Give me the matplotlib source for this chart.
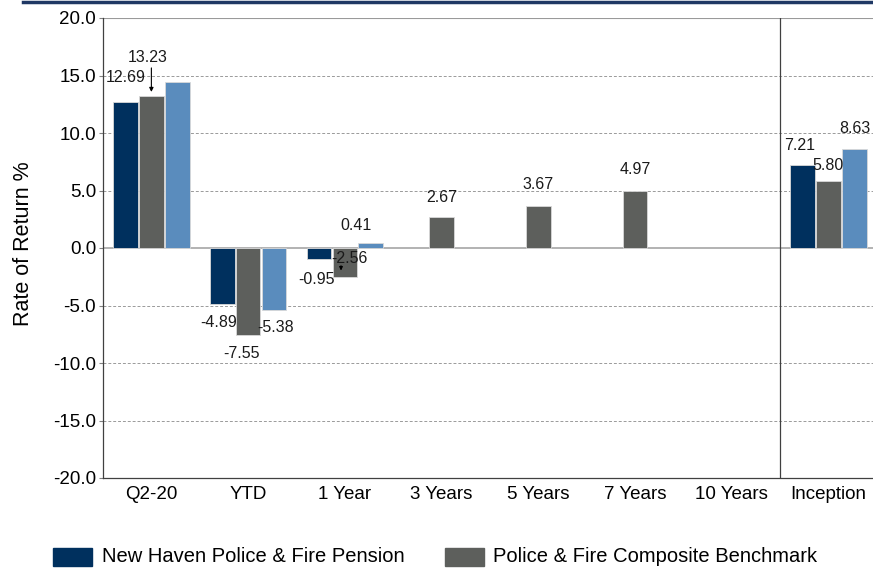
import matplotlib
matplotlib.use("Agg")
import matplotlib.pyplot as plt
from matplotlib.patches import Rectangle
import numpy as np

categories = ["Q2-20", "YTD", "1 Year", "3 Years", "5 Years", "7 Years", "10 Years", "Inception"]
pension = [12.69, -4.89, -0.95, np.nan, np.nan, np.nan, np.nan, 7.21]
benchmark = [13.23, -7.55, -2.56, 2.67, 3.67, 4.97, np.nan, 5.80]
third = [14.43, -5.38, 0.41, np.nan, np.nan, np.nan, np.nan, 8.63]
series_names = ["New Haven Police & Fire Pension", "Police & Fire Composite Benchmark"]
yticks = [20, 15, 10, 5, 0, -5, -10, -15, -20]

# label positions (data coords) per series/category, None = no label
pension_lbl = [(-0.27, 14.8), (-0.31, -6.5), (-0.29, -2.7), None, None, None, None, (-0.3, 8.95)]
bench_lbl = [(-0.04, 16.6), (-0.07, -9.2), (0.05, -0.87), (0, 4.43), (0, 5.5), (0, 6.8), None, (-0.01, 7.2)]
third_lbl = [None, (0.28, -6.95), (0.12, 2.0), None, None, None, None, (0.27, 10.4)]

plt.rcParams["font.family"] = ["Liberation Sans", "DejaVu Sans"]

navy = "#00305E"
gray = "#5D5F5C"
blue = "#5A8CBD"

fig = plt.figure(figsize=(8.73, 5.72), dpi=100)
W, H = 873, 572
ax = fig.add_axes([103 / W, 1 - 478 / H, (877 - 103) / W, (478 - 18) / H])

x = np.arange(len(categories))
bw = 0.255
off = 0.268
ax.bar(x - off, pension, bw, color=navy, edgecolor="#d9d9d9", linewidth=0.6, zorder=3)
ax.bar(x, benchmark, bw, color=gray, edgecolor="#d9d9d9", linewidth=0.6, zorder=3)
ax.bar(x + off, third, bw, color=blue, edgecolor="#d9d9d9", linewidth=0.6, zorder=3)

ax.set_xlim(-0.5, 7.5)
ax.set_ylim(-20, 20)
ax.set_yticks(yticks)
ax.set_yticklabels([f"{v:.1f}" for v in yticks], fontsize=13.5)
ax.set_xticks(x)
ax.set_xticklabels(categories, fontsize=13.5)
ax.tick_params(axis="y", length=3, color="#808080", pad=2)
ax.tick_params(axis="x", length=0, pad=6)

for v in yticks:
    if v in (20, -20):
        continue
    if v == 0:
        ax.axhline(0, color="#a6a6a6", linewidth=1.2, zorder=1)
    else:
        ax.axhline(v, color="#9a9a9a", linewidth=0.7, linestyle=(0, (3, 2)), zorder=1)
ax.axhline(20, color="#9a9a9a", linewidth=0.8, zorder=1)

for s in ["top", "right"]:
    ax.spines[s].set_visible(False)
for s in ["left", "bottom"]:
    ax.spines[s].set_color("#404040")
    ax.spines[s].set_linewidth(0.9)

ax.axvline(6.5, color="#404040", linewidth=0.9, zorder=2)

def put(vals, lbls):
    for i, (v, l) in enumerate(zip(vals, lbls)):
        if l is None or np.isnan(v):
            continue
        ax.text(i + l[0], l[1], f"{v:.2f}", ha="center", va="center", fontsize=11.5, color="#1a1a1a", zorder=5)

put(pension, pension_lbl)
put(benchmark, bench_lbl)
put(third, third_lbl)

# leader arrows
ax.annotate("", xy=(0, benchmark[0] + 0.1), xytext=(0, 15.9),
            arrowprops=dict(arrowstyle="-|>", color="black", lw=0.8, mutation_scale=6), zorder=5)
ax.annotate("", xy=(1.96, -2.2), xytext=(1.96, -1.3),
            arrowprops=dict(arrowstyle="-|>", color="black", lw=0.8, mutation_scale=5), zorder=5)

ax.set_ylabel("Rate of Return %", fontsize=15.5)
ax.yaxis.set_label_coords(-(103 - 34) / (877 - 103), 0.51)

# top border line
fig.add_artist(plt.Line2D([23 / W, 1], [1 - 1.5 / H, 1 - 1.5 / H], color="#1F3864", linewidth=2.5))

# legend
for (x0, tx, c, nm) in [(53, 102, navy, series_names[0]), (445, 493, gray, series_names[1])]:
    fig.add_artist(Rectangle((x0 / W, 1 - 566 / H), 39 / W, 18 / H, color=c, transform=fig.transFigure))
    fig.text(tx / W, 1 - 557 / H, nm, fontsize=14.5, va="center", ha="left")

fig.savefig("out.png", dpi=100)
